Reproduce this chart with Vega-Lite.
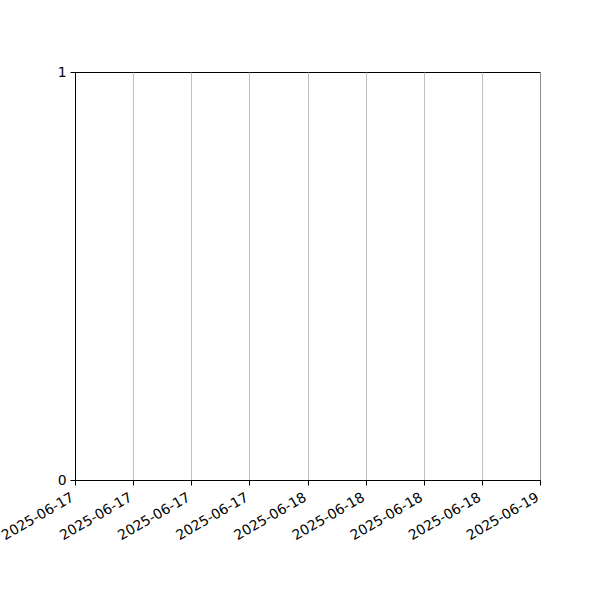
{
  "$schema": "https://vega.github.io/schema/vega-lite/v6.json",
  "width": 465,
  "height": 408,
  "autosize": {"type": "none"},
  "padding": {"left": 75, "top": 72, "right": 60, "bottom": 120},
  "background": "white",
  "data": {"values": [
    {"time": "2025-06-17T00:00:00Z", "value": 0},
    {"time": "2025-06-19T00:00:00Z", "value": 1}
  ]},
  "mark": {"type": "point", "opacity": 0},
  "encoding": {
    "x": {
      "field": "time", "type": "temporal",
      "scale": {"type": "utc", "domain": [
        {"year": 2025, "month": 6, "date": 17, "utc": true},
        {"year": 2025, "month": 6, "date": 19, "utc": true}
      ], "nice": false},
      "axis": {
        "title": null,
        "values": [
          {"year": 2025, "month": 6, "date": 17, "hours": 0, "utc": true},
          {"year": 2025, "month": 6, "date": 17, "hours": 6, "utc": true},
          {"year": 2025, "month": 6, "date": 17, "hours": 12, "utc": true},
          {"year": 2025, "month": 6, "date": 17, "hours": 18, "utc": true},
          {"year": 2025, "month": 6, "date": 18, "hours": 0, "utc": true},
          {"year": 2025, "month": 6, "date": 18, "hours": 6, "utc": true},
          {"year": 2025, "month": 6, "date": 18, "hours": 12, "utc": true},
          {"year": 2025, "month": 6, "date": 18, "hours": 18, "utc": true},
          {"year": 2025, "month": 6, "date": 19, "hours": 0, "utc": true}
        ],
        "labelExpr": "utcFormat(datum.value, '%Y-%m-%d')",
        "labelAngle": -30,
        "labelAlign": "right",
        "labelBaseline": "top",
        "labelOffset": -6,
        "labelPadding": 5,
        "labelOverlap": false,
        "labelFlush": false,
        "grid": true,
        "gridColor": "#b0b0b0",
        "gridWidth": 0.8
      }
    },
    "y": {
      "field": "value", "type": "quantitative",
      "scale": {"domain": [0, 1], "nice": false, "zero": false},
      "axis": {"title": null, "values": [0, 1], "format": "d", "grid": false, "labelPadding": 4}
    }
  },
  "config": {
    "view": {"stroke": "black", "strokeWidth": 1},
    "axis": {
      "labelFont": "DejaVu Sans",
      "labelFontSize": 13.9,
      "labelColor": "black",
      "domainColor": "black",
      "domainWidth": 1,
      "tickColor": "black",
      "tickSize": 5,
      "tickWidth": 1
    }
  }
}
